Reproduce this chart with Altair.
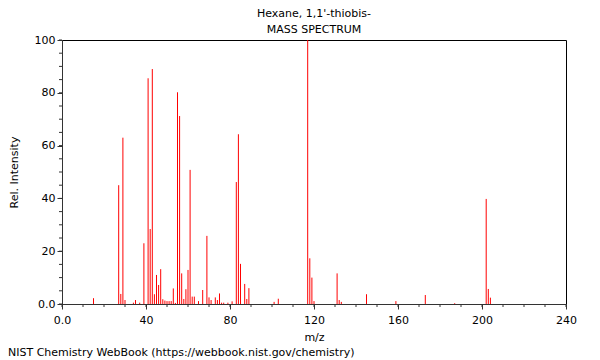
import altair as alt
import pandas as pd

mz = [15, 27, 28, 29, 30, 34, 35, 37, 39, 41, 42, 43, 44, 45, 46, 47, 48, 49, 50, 51,
      52, 53, 54, 55, 56, 57, 58, 59, 60, 61, 62, 63, 65, 67, 69, 70, 71, 73, 74, 75,
      76, 77, 79, 81, 83, 84, 85, 87, 88, 89, 101, 103, 117, 118, 119, 120, 131, 132,
      133, 145, 159, 173, 187, 202, 203, 204]
intensity = [2.2, 45, 3.8, 63, 1.5, 0.5, 1.5, 0.5, 23, 85.5, 28.4, 89, 3.7, 11, 7.2, 13.2,
             1.8, 1.3, 1.1, 1.1, 1.1, 5.9, 0.4, 80.2, 71.2, 11.6, 1.9, 5.6, 12.9, 50.8,
             2.8, 2.8, 1.1, 5.3, 25.8, 2.5, 1.5, 2.5, 1.5, 4, 0.5, 0.5, 0.5, 1, 46.2,
             64.3, 15.2, 7.6, 1.9, 6, 0.8, 2, 100, 17.3, 10, 1.1, 11.6, 1.5, 0.8, 3.7,
             1.1, 3.4, 0.3, 39.8, 5.7, 2.4]

x_ticks = [0, 40, 80, 120, 160, 200, 240]
y_ticks = [0, 20, 40, 60, 80, 100]
x_minor = list(range(0, 241, 10))
y_minor = list(range(0, 101, 5))

title_lines = ["Hexane, 1,1'-thiobis-", "MASS SPECTRUM"]
footer = "NIST Chemistry WebBook (https://webbook.nist.gov/chemistry)"

W, H = 504, 264
FONT = "DejaVu Sans"

df = pd.DataFrame({"mz": mz, "intensity": intensity})

xscale = alt.Scale(domain=[0, 240], nice=False, zero=False)
yscale = alt.Scale(domain=[0, 100], nice=False)

bars = alt.Chart(df).mark_rule(color="#ff0000", strokeWidth=1).encode(
    x=alt.X("mz:Q", scale=xscale, title="m/z",
            axis=alt.Axis(values=x_ticks, labelExpr="datum.value == 0 ? '0.0' : datum.label",
                          tickSize=5, grid=False, labelFlush=False, labelPadding=5,
                          titlePadding=6)),
    y=alt.Y("intensity:Q", scale=yscale, title="Rel. Intensity",
            axis=alt.Axis(values=y_ticks, labelExpr="datum.value == 0 ? '0.0' : datum.label",
                          tickSize=5, grid=False, labelFlush=False, titlePadding=15)),
    y2=alt.datum(0),
)

xminor = alt.Chart(pd.DataFrame({"v": x_minor})).mark_rule(color="#333333", strokeWidth=1).encode(
    x=alt.X("v:Q", scale=xscale),
    y=alt.value(H),
    y2=alt.value(H + 3),
)

yminor = alt.Chart(pd.DataFrame({"v": y_minor})).mark_rule(color="#333333", strokeWidth=1).encode(
    y=alt.Y("v:Q", scale=yscale),
    x=alt.value(-3),
    x2=alt.value(0),
)

foot = alt.Chart(pd.DataFrame({"t": [footer]})).mark_text(
    align="left", baseline="middle", font=FONT, fontSize=11, color="black"
).encode(
    text="t:N",
    x=alt.value(-54),
    y=alt.value(H + 49),
)

titles = alt.Chart(pd.DataFrame({"t": title_lines, "yy": [-26, -10]})).mark_text(
    align="center", baseline="middle", font=FONT, fontSize=11, color="black"
).encode(
    text="t:N",
    x=alt.value(W / 2),
    y=alt.Y("yy:Q", scale=None),
)

chart = alt.layer(bars, xminor, yminor, foot, titles).properties(
    width=W,
    height=H,
    autosize=alt.AutoSizeParams(type="none"),
    padding={"left": 54, "top": 32, "right": 18, "bottom": 54},
).configure_view(
    stroke="black", strokeWidth=1
).configure_axis(
    labelFont=FONT, titleFont=FONT, labelFontSize=11, titleFontSize=11,
    titleFontWeight="normal", labelColor="black", titleColor="black",
    domainColor="#333333", tickColor="#333333",
)

chart.save("out.html", embed_options={"renderer": "svg", "actions": False})
